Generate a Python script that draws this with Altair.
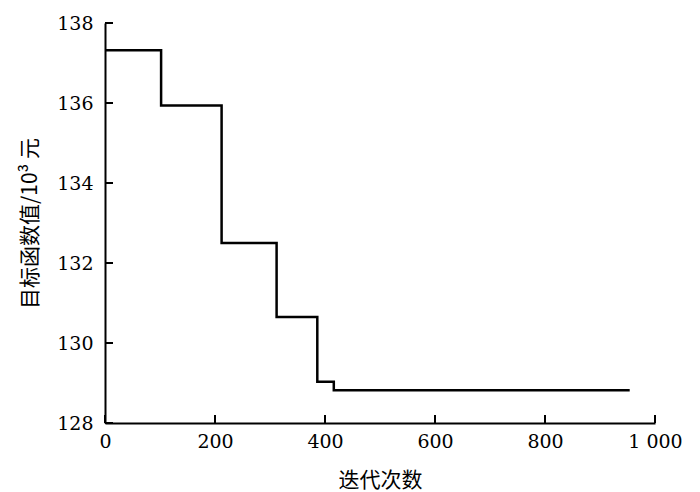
import altair as alt
import pandas as pd

# Data
iterations = [0, 102, 212, 312, 386, 416, 954]
objective = [137.32, 135.94, 132.50, 130.65, 129.03, 128.82, 128.82]

x_ticks = [0, 200, 400, 600, 800, 1000]
x_tick_labels = ["0", "200", "400", "600", "800", "1 000"]
y_ticks = [128, 130, 132, 134, 136, 138]
y_tick_labels = ["128", "130", "132", "134", "136", "138"]

x_title = "迭代次数"
y_title = "目标函数值/10³ 元"

df = pd.DataFrame({"iter": iterations, "obj": objective})
xt = pd.DataFrame({"iter": x_ticks})
yt = pd.DataFrame({"obj": y_ticks})


def label_expr(values, labels):
    expr = "datum.label"
    for v, l in reversed(list(zip(values, labels))):
        expr = f"datum.value == {v} ? '{l}' : ({expr})"
    return expr


x_scale = alt.Scale(domain=[0, 1000], nice=False, zero=False)
y_scale = alt.Scale(domain=[128, 138], nice=False, zero=False)

SERIF = "DejaVu Serif"
CJK = "Noto Sans CJK SC"

x_axis = alt.Axis(
    values=x_ticks,
    labelExpr=label_expr(x_ticks, x_tick_labels),
    title=x_title,
    titleFont=CJK,
    titleFontSize=21,
    titleFontWeight="normal",
    titleColor="black",
    titlePadding=18,
    labelFont=SERIF,
    labelFontSize=19,
    labelColor="black",
    labelPadding=9,
    labelFlush=False,
    labelOverlap=False,
    ticks=False,
    grid=False,
    domainColor="black",
    domainWidth=2,
)

y_axis = alt.Axis(
    values=y_ticks,
    labelExpr=label_expr(y_ticks, y_tick_labels),
    title=y_title,
    titleFont=CJK,
    titleFontSize=21,
    titleFontWeight="normal",
    titleColor="black",
    titlePadding=16,
    labelFont=SERIF,
    labelFontSize=19,
    labelColor="black",
    labelPadding=12,
    labelFlush=False,
    labelOverlap=False,
    ticks=False,
    grid=False,
    domainColor="black",
    domainWidth=2,
)

line = alt.Chart(df).mark_line(
    interpolate="step-after", color="black", strokeWidth=2.5
).encode(
    x=alt.X("iter:Q", scale=x_scale, axis=x_axis),
    y=alt.Y("obj:Q", scale=y_scale, axis=y_axis),
)

ytick_marks = alt.Chart(yt).mark_rule(color="black", strokeWidth=2).encode(
    y=alt.Y("obj:Q", scale=y_scale, axis=y_axis),
    x=alt.value(0),
    x2=alt.value(8),
)

xtick_marks = alt.Chart(xt).mark_rule(color="black", strokeWidth=2).encode(
    x=alt.X("iter:Q", scale=x_scale, axis=x_axis),
    y=alt.value(400),
    y2=alt.value(392),
)

chart = alt.layer(line, ytick_marks, xtick_marks).properties(
    width=550,
    height=400,
    autosize=alt.AutoSizeParams(type="none"),
    padding={"left": 97, "top": 15, "right": 37, "bottom": 70},
    background="white",
).configure_view(stroke=None)

chart.save("out.html", embed_options={"renderer": "svg", "actions": False})
